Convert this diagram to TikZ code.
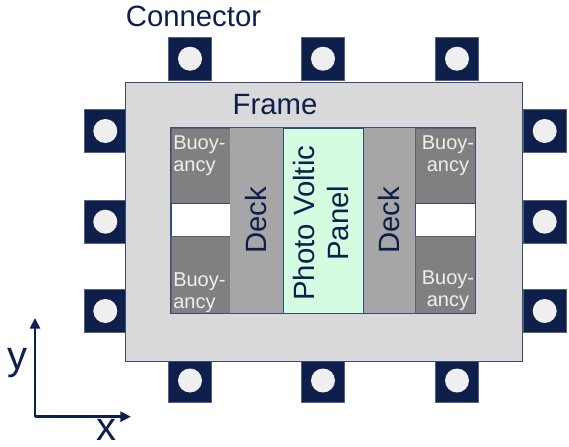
\documentclass[tikz,border=0pt]{standalone}
\usepackage{fontspec}
\setmainfont{Liberation Sans}
\usepackage{xcolor}
\usetikzlibrary{arrows.meta,positioning}
\definecolor{cNavy}{HTML}{0F1F4B}
\definecolor{cLine}{HTML}{3A4A78}
\definecolor{cFrame}{HTML}{D9D9D9}
\definecolor{cBuoy}{HTML}{808080}
\definecolor{cDeck}{HTML}{A6A6A6}
\definecolor{cPanel}{HTML}{D4FCE0}
\definecolor{cPin}{HTML}{EFEFEF}
\newcommand{\px}[1]{#1*0.75pt}
\tikzset{
  blk/.style     = {rectangle, draw=#1, inner sep=0pt, line width=0.5pt},
  frm/.style     = {blk=cLine, fill=cFrame, minimum width=\px{397}, minimum height=\px{279}},
  buoy/.style    = {blk=cBuoy!70!cNavy, fill=cBuoy, minimum width=\px{59}, minimum height=#1},
  gap/.style     = {blk=cLine, fill=white, minimum width=\px{59}, minimum height=\px{33}},
  deck/.style    = {rectangle, fill=cDeck, inner sep=0pt, minimum width=\px{53}, minimum height=\px{185}},
  pv/.style      = {blk=cLine, fill=cPanel, minimum width=\px{80}, minimum height=\px{185}},
  conn/.style    = {rectangle, fill=cNavy, draw=cNavy!70!white, line width=0.3pt,
                    inner sep=0pt, minimum size=\px{43}},
  pin/.style     = {circle, fill=cPin, inner sep=0pt, minimum size=\px{24}},
  txt/.style     = {text=cNavy, inner sep=0pt, font=\fontsize{22}{26}\selectfont},
  btxt/.style    = {text=cPin, inner sep=0pt, font=\fontsize{15}{16.5}\selectfont},
  axis/.style    = {-{Triangle[length=8pt,width=7.5pt]}, draw=cNavy, line width=2pt},
  axtxt/.style   = {text=cNavy, inner sep=0pt, font=\fontsize{30}{30}\selectfont},
}

\begin{document}
\begin{tikzpicture}[x=0.75pt, y=-0.75pt]
  \useasboundingbox (0,0) rectangle (569,447);

  % connectors round the frame
  \foreach \i/\cx in {1/190,2/323,3/457} {
    \node[conn] (ct\i) at (\cx,58.7) {};
    \node[pin] at (ct\i) {};
    \node[conn] (cb\i) at (\cx,380.5) {};
    \node[pin] at (cb\i) {};
  }
  \foreach \i/\cy in {1/131,2/221.7,3/311} {
    \node[conn] (cl\i) at (105.3,\cy) {};
    \node[pin] at (cl\i) {};
    \node[conn] (cr\i) at (544.7,\cy) {};
    \node[pin] at (cr\i) {};
  }

  \node[frm] (frame) at (323.5,221.5) {};

  % inner deck area
  \node[buoy=\px{75}] (btl) at (200.5,165.5) {};
  \node[gap]          (gl)  at (200.5,219.5) {};
  \node[buoy=\px{77}] (bbl) at (200.5,274.5) {};
  \node[buoy=\px{75}, minimum width=\px{60}] (btr) at (445,165.5) {};
  \node[gap, minimum width=\px{60}]          (gr)  at (445,219.5) {};
  \node[buoy=\px{77}, minimum width=\px{60}] (bbr) at (445,274.5) {};
  \node[deck] (deckl) at (256.5,220.5) {};
  \node[deck, minimum width=\px{52}] (deckr) at (389,220.5) {};
  \node[pv] (pv) at (323,220.5) {};
  \draw[cLine, line width=0.8pt] (btl.north west) rectangle (bbr.south east);

  \node[btxt, anchor=north west, align=left] (tbtl) at (173,135) {Buoy-\\ancy};
  \node[btxt, anchor=north west, align=left] (tbbl) at (173,272) {Buoy-\\ancy};
  \node[btxt, anchor=north, align=center] (tbtr) at (448,135) {Buoy-\\ancy};
  \node[btxt, anchor=north, align=center] (tbbr) at (448,270.5) {Buoy-\\ancy};
  \node[txt, rotate=90] (tdl) at (deckl) {Deck};
  \node[txt, rotate=90] (tdr) at (deckr) {Deck};
  \node[txt, rotate=90, align=center] (tpv) at ([xshift=-1.5pt,yshift=-2pt]pv.center) {Photo Voltic\\Panel};

  \node[txt] (tconn) at (193.5,16) {Connector};
  \node[txt] (tframe) at (275,105) {Frame};

  % axes
  \coordinate (o)  at (35,416.7);
  \coordinate (ay) at (35,318);
  \coordinate (ax) at (131,416.7);
  \draw[axis] (o) -- (ay);
  \draw[axis] (o) -- (ax);
  \node[axtxt, anchor=base] (ly) at (17.5,369) {y};
  \node[axtxt, anchor=base] (lx) at (106,440) {x};
\end{tikzpicture}
\end{document}
